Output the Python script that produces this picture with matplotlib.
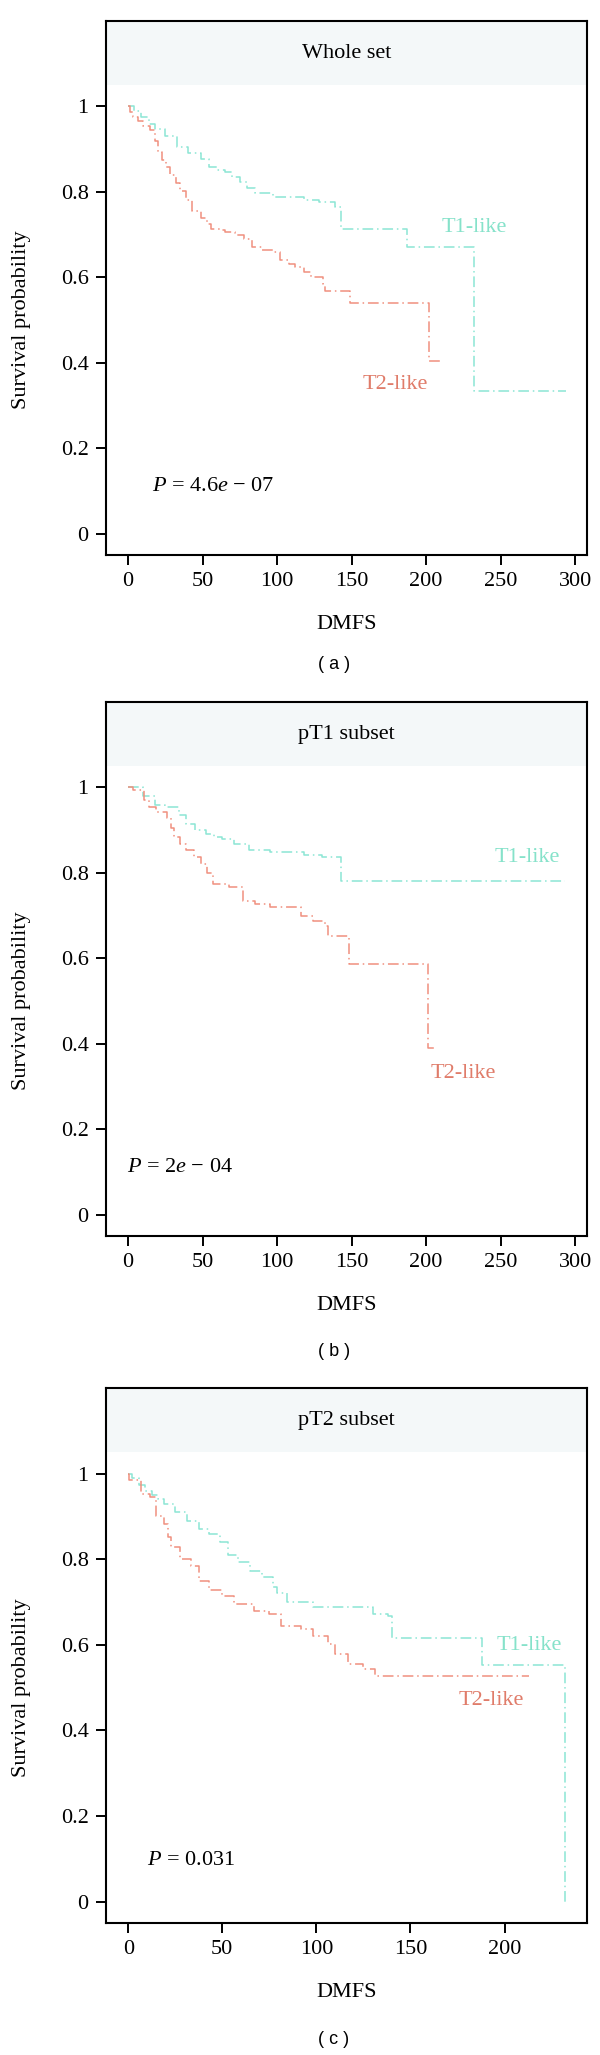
import matplotlib
matplotlib.use("Agg")
import matplotlib.pyplot as plt

plt.rcParams['font.family'] = ['Liberation Serif', 'DejaVu Serif']
plt.rcParams['mathtext.fontset'] = 'custom'
plt.rcParams['mathtext.rm'] = 'Liberation Serif'
plt.rcParams['mathtext.it'] = 'Liberation Serif:italic'

# Whole set
a_t1_time = [0, 4, 9, 14, 18, 25, 33, 40, 49, 54, 60, 65, 70, 75, 80, 85, 97, 118, 128, 139, 143, 187, 232, 294]
a_t1_surv = [1.0, 0.99, 0.975, 0.96, 0.948, 0.93, 0.905, 0.89, 0.877, 0.858, 0.852, 0.846, 0.835, 0.823,
             0.81, 0.797, 0.787, 0.782, 0.776, 0.764, 0.713, 0.67, 0.335, 0.335]
a_t2_time = [0, 1, 3, 7, 10, 15, 18, 20, 23, 25.5, 28, 32, 35, 39, 42.6, 49, 53, 56, 62, 65, 72, 78, 83,
             90, 97, 102, 108, 112, 118, 123, 131, 132, 149, 202, 210]
a_t2_surv = [1.0, 0.987, 0.975, 0.965, 0.955, 0.944, 0.92, 0.893, 0.875, 0.858, 0.84, 0.82, 0.803, 0.78,
             0.756, 0.74, 0.725, 0.713, 0.71, 0.705, 0.698, 0.69, 0.67, 0.665, 0.659, 0.64, 0.632, 0.623,
             0.612, 0.6, 0.584, 0.567, 0.541, 0.405, 0.405]

# pT1 subset
b_t1_time = [0, 10, 18, 25, 34, 39, 45, 52, 58, 63, 71, 81, 95, 118, 130, 143, 293]
b_t1_surv = [1.0, 0.98, 0.96, 0.955, 0.935, 0.915, 0.9, 0.89, 0.885, 0.88, 0.868, 0.853, 0.849, 0.843,
             0.837, 0.78, 0.78]
b_t2_time = [0, 3, 11, 14, 19, 26, 29, 31, 35, 39, 44, 49, 53, 57, 68, 77, 85, 95, 116, 124, 132, 134,
             148, 201, 207]
b_t2_surv = [1.0, 0.995, 0.97, 0.955, 0.943, 0.928, 0.905, 0.884, 0.868, 0.853, 0.838, 0.821, 0.8, 0.774,
             0.766, 0.735, 0.727, 0.719, 0.7, 0.688, 0.676, 0.652, 0.587, 0.39, 0.39]

# pT2 subset
c_t1_time = [0, 2, 5.6, 9, 12.9, 16, 19, 25, 31.5, 37.8, 43, 49, 53, 58.5, 64.7, 71, 77, 79, 84.4, 98,
             130, 138, 140, 188, 232]
c_t1_surv = [1.0, 0.99, 0.973, 0.96, 0.95, 0.94, 0.93, 0.91, 0.89, 0.871, 0.86, 0.84, 0.81, 0.793, 0.773,
             0.758, 0.734, 0.72, 0.7, 0.688, 0.673, 0.668, 0.617, 0.553, 0.0]
c_t2_time = [0, 0.5, 6.6, 11.8, 15, 19, 21, 23, 27.4, 33.6, 37.8, 43, 50, 56, 66.8, 75, 81, 91.7, 98, 106,
             110, 116.6, 125, 131, 213]
c_t2_surv = [1.0, 0.984, 0.953, 0.945, 0.902, 0.883, 0.852, 0.828, 0.8, 0.785, 0.75, 0.727, 0.715, 0.695,
             0.68, 0.672, 0.645, 0.637, 0.621, 0.602, 0.578, 0.555, 0.543, 0.527, 0.527]

titles = ['Whole set', 'pT1 subset', 'pT2 subset']
p_texts = [r'$P$ = 4.6$e$ − 07', r'$P$ = 2$e$ − 04', r'$P$ = 0.031']
panel_tags = ['( a )', '( b )', '( c )']

C_T1 = '#8ce6d4'
C_T2 = '#f0907e'
C_T1_TXT = '#86e2ca'
C_T2_TXT = '#e07c6a'
STRIP = '#f4f8f9'

panels = [
    dict(t1=(a_t1_time, a_t1_surv), t2=(a_t2_time, a_t2_surv), xlim=(-14.8, 308), xmax=300,
         t1_lab=(232, 0.717), t2_lab=(179.5, 0.35), p_pos=(16, 0.11), box=(21, 555), tag_y=665),
    dict(t1=(b_t1_time, b_t1_surv), t2=(b_t2_time, b_t2_surv), xlim=(-14.8, 308), xmax=300,
         t1_lab=(268, 0.837), t2_lab=(225, 0.33), p_pos=(-1, 0.11), box=(702, 1236), tag_y=1352),
    dict(t1=(c_t1_time, c_t1_surv), t2=(c_t2_time, c_t2_surv), xlim=(-11.8, 243.8), xmax=200,
         t1_lab=(213, 0.598), t2_lab=(193, 0.47), p_pos=(9.8, 0.097), box=(1388, 1923), tag_y=2040),
]

W, H = 600, 2055
fig = plt.figure(figsize=(W / 100, H / 100), dpi=100)

for i, p in enumerate(panels):
    top, bot = p['box']
    ax = fig.add_axes([106 / W, 1 - bot / H, 481 / W, (bot - top) / H])
    ax.axhspan(1.05, 1.2, color=STRIP, lw=0, zorder=0)
    ax.text(0.5, 1.125, titles[i], transform=ax.get_yaxis_transform(), ha='center', va='center',
            fontsize=16)

    dash = (0, (7, 2.5, 1, 2.5))
    ax.step(p['t1'][0], p['t1'][1], where='post', color=C_T1, lw=1.1, linestyle=dash)
    ax.step(p['t2'][0], p['t2'][1], where='post', color=C_T2, lw=1.1, linestyle=dash)

    ax.text(*p['t1_lab'], 'T1-like', color=C_T1_TXT, ha='center', va='center', fontsize=16)
    ax.text(*p['t2_lab'], 'T2-like', color=C_T2_TXT, ha='center', va='center', fontsize=16)
    ax.text(*p['p_pos'], p_texts[i], ha='left', va='center', fontsize=16)

    ax.set_xlim(*p['xlim'])
    ax.set_ylim(-0.05, 1.2)
    ax.set_xticks(range(0, p['xmax'] + 1, 50))
    ax.set_yticks([0, 0.2, 0.4, 0.6, 0.8, 1])
    ax.set_yticklabels(['0', '0.2', '0.4', '0.6', '0.8', '1'])
    ax.tick_params(direction='out', length=7.5, width=1.4, labelsize=16, pad=5)
    for s in ax.spines.values():
        s.set_linewidth(1.5)

    ax.set_ylabel('Survival probability', fontsize=16)
    ax.yaxis.set_label_coords(-0.155, 0.44)
    ax.set_xlabel('DMFS', fontsize=16)
    ax.xaxis.set_label_coords(0.5, -0.112)

    fig.text(334 / W, 1 - p['tag_y'] / H, panel_tags[i], ha='center', va='center',
             fontsize=13, family=['Liberation Sans', 'DejaVu Sans'])

fig.savefig('out.png', dpi=100)
